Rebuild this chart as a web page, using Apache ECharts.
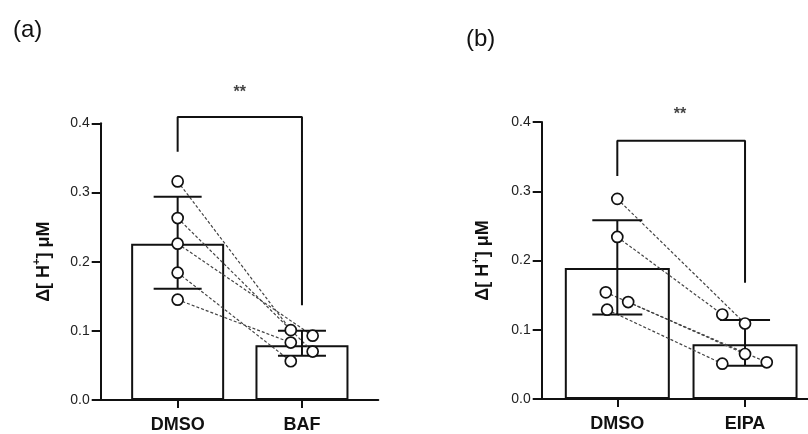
<!DOCTYPE html>
<html>
<head>
<meta charset="utf-8">
<script src="https://cdn.jsdelivr.net/npm/echarts@6/dist/echarts.min.js"></script>
<style>
  html, body { margin: 0; padding: 0; background: #fff; }
  #chart { width: 808px; height: 434px; }
</style>
</head>
<body>
<div id="chart"></div>
<script>
// panel (a): DMSO vs BAF
const groupsA = ["DMSO", "BAF"];
const meanA = [0.226, 0.079];
const sdLowA = [0.161, 0.064];
const sdHighA = [0.294, 0.100];
const dmsoPointsA = [[0, 0.316], [0, 0.263], [0, 0.226], [0, 0.184], [0, 0.145]];
const drugPointsA = [[0.91, 0.101], [0.91, 0.083], [0.91, 0.056], [1.086, 0.093], [1.086, 0.070]];
const pairsA = [0, 4, 3, 2, 1];
const bracketA = [[0, 0.359], [0, 0.409], [1, 0.409], [1, 0.137]];
const starA = [[0.5, 0.445]];

// panel (b): DMSO vs EIPA
const groupsB = ["DMSO", "EIPA"];
const meanB = [0.189, 0.079];
const sdLowB = [0.122, 0.048];
const sdHighB = [0.258, 0.114];
const dmsoPointsB = [[0, 0.289], [0, 0.234], [-0.09, 0.154], [0.085, 0.140], [-0.08, 0.129]];
const drugPointsB = [[0.822, 0.122], [1, 0.109], [1, 0.065], [0.822, 0.051], [1.17, 0.053]];
const pairsB = [1, 0, 4, 2, 3];
const bracketB = [[0, 0.322], [0, 0.373], [1, 0.373], [1, 0.168]];
const starB = [[0.49, 0.41]];

const FONT = "Liberation Sans";
const INK = "#111";

const chart = echarts.init(document.getElementById("chart"));

function xAxisFor(gridIndex, names, min, max) {
  return {
    type: "value", gridIndex, min, max,
    axisLine: { show: true, onZero: false, lineStyle: { color: INK, width: 2 } },
    axisTick: { show: true, customValues: [0, 1], length: 8, lineStyle: { color: INK, width: 2 } },
    axisLabel: {
      customValues: [0, 1], formatter: (v) => names[Math.round(v)],
      margin: 16, fontFamily: FONT, fontSize: 18, fontWeight: "bold", color: INK
    },
    splitLine: { show: false }
  };
}

function yAxisFor(gridIndex, gap) {
  return {
    type: "value", gridIndex, min: 0, max: 0.4, interval: 0.1,
    name: "{a|Δ[ H}{s|+}{a|] μM}",
    nameLocation: "middle", nameRotate: 90, nameGap: gap,
    nameTextStyle: {
      rich: {
        a: { fontFamily: FONT, fontSize: 18, fontWeight: "bold", color: INK, lineHeight: 24 },
        s: { fontFamily: FONT, fontSize: 11, fontWeight: "bold", color: INK, lineHeight: 24, verticalAlign: "top" }
      }
    },
    axisLine: { show: true, onZero: false, lineStyle: { color: INK, width: 2 } },
    axisTick: { show: true, length: 9, lineStyle: { color: INK, width: 2 } },
    axisLabel: {
      margin: 11, fontFamily: FONT, fontSize: 14, color: "#222",
      formatter: (v) => v.toFixed(1)
    },
    splitLine: { show: false }
  };
}

function panelSeries(idx, mean, low, high, dmsoPts, drugPts, pairs, bracket, star, barW, capW) {
  const out = [];
  out.push({
    type: "bar", xAxisIndex: idx, yAxisIndex: idx, barWidth: barW, z: 1,
    data: mean.map((v, i) => [i, v]),
    itemStyle: { color: "#fff", borderColor: INK, borderWidth: 2 },
    silent: true
  });
  pairs.forEach((j, i) => {
    out.push({
      type: "line", xAxisIndex: idx, yAxisIndex: idx, z: 2, symbol: "none", silent: true,
      data: [dmsoPts[i], drugPts[j]],
      lineStyle: { color: "#444", width: 1.2, type: [3, 2] }
    });
  });
  out.push({
    type: "custom", xAxisIndex: idx, yAxisIndex: idx, z: 3, silent: true,
    data: mean.map((v, i) => [i, low[i], high[i]]),
    renderItem: (params, api) => {
      const lo = api.coord([api.value(0), api.value(1)]);
      const hi = api.coord([api.value(0), api.value(2)]);
      const style = { stroke: INK, lineWidth: 2 };
      return {
        type: "group",
        children: [
          { type: "line", shape: { x1: lo[0], y1: lo[1], x2: hi[0], y2: hi[1] }, style },
          { type: "line", shape: { x1: hi[0] - capW, y1: hi[1], x2: hi[0] + capW, y2: hi[1] }, style },
          { type: "line", shape: { x1: lo[0] - capW, y1: lo[1], x2: lo[0] + capW, y2: lo[1] }, style }
        ]
      };
    }
  });
  out.push({
    type: "scatter", xAxisIndex: idx, yAxisIndex: idx, z: 4, silent: true,
    symbol: "circle", symbolSize: 11,
    data: dmsoPts.concat(drugPts),
    itemStyle: { color: "#fff", borderColor: INK, borderWidth: 1.7, opacity: 1 }
  });
  out.push({
    type: "line", xAxisIndex: idx, yAxisIndex: idx, z: 3, symbol: "none", clip: false, silent: true,
    data: bracket,
    lineStyle: { color: INK, width: 2 }
  });
  out.push({
    type: "scatter", xAxisIndex: idx, yAxisIndex: idx, z: 5, silent: true, clip: false,
    symbolSize: 0, data: star, itemStyle: { color: "transparent" },
    label: {
      show: true, position: "inside", formatter: "**",
      fontFamily: FONT, fontSize: 16, fontWeight: "bold", color: INK
    }
  });
  return out;
}

chart.setOption({
  animation: false,
  backgroundColor: "#fff",
  grid: [
    { left: 100.7, top: 123.3, width: 277.6, height: 277.4 },
    { left: 541.7, top: 122, width: 266.3, height: 277 }
  ],
  xAxis: [
    xAxisFor(0, groupsA, -0.619, 1.614),
    xAxisFor(1, groupsB, -0.592, 1.493)
  ],
  yAxis: [yAxisFor(0, 45), yAxisFor(1, 47)],
  graphic: [
    { type: "text", left: 13, top: 18, style: { text: "(a)", fontFamily: FONT, fontSize: 24, fill: "#111" } },
    { type: "text", left: 466, top: 27, style: { text: "(b)", fontFamily: FONT, fontSize: 24, fill: "#111" } }
  ],
  series: [
    ...panelSeries(0, meanA, sdLowA, sdHighA, dmsoPointsA, drugPointsA, pairsA, bracketA, starA, 93, 24),
    ...panelSeries(1, meanB, sdLowB, sdHighB, dmsoPointsB, drugPointsB, pairsB, bracketB, starB, 105, 25)
  ]
});
window.addEventListener("resize", () => chart.resize());
</script>
</body>
</html>
